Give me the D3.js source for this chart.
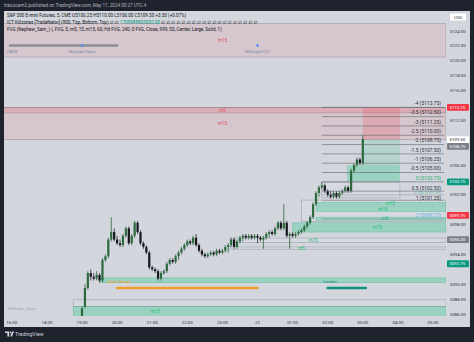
<!DOCTYPE html>
<html>
<head>
<meta charset="utf-8">
<script src="https://cdnjs.cloudflare.com/ajax/libs/d3/7.8.5/d3.min.js"></script>
<style>
  body { margin: 0; background: #1e222d; overflow: hidden; }
  text { font-family: Roboto, 'DejaVu Sans', sans-serif; }
</style>
</head>
<body>
<div id="graph"></div>
<script>
const width = 474
const height = 342

// 5 minute bars [open, high, low, close], index 0 = 19:00
const candles = [
  [5085.75, 5087.00, 5085.25, 5086.75], [5087.00, 5090.00, 5086.75, 5089.50], [5089.50, 5091.75, 5089.25, 5091.50],
  [5091.50, 5092.00, 5090.50, 5091.00], [5091.00, 5091.50, 5090.50, 5090.75], [5090.75, 5091.75, 5090.50, 5091.25],
  [5091.25, 5091.50, 5090.25, 5090.50], [5090.50, 5093.50, 5090.25, 5093.25], [5093.25, 5094.00, 5093.00, 5093.75],
  [5093.75, 5096.25, 5093.50, 5096.00], [5096.00, 5099.00, 5095.75, 5097.00], [5097.00, 5097.50, 5095.75, 5096.00],
  [5096.00, 5096.50, 5095.25, 5095.50], [5095.50, 5096.00, 5095.00, 5095.25], [5095.25, 5096.75, 5095.00, 5096.50],
  [5096.50, 5097.75, 5096.25, 5097.50], [5097.50, 5097.75, 5095.25, 5095.50], [5095.50, 5096.75, 5095.25, 5096.50],
  [5096.50, 5098.50, 5096.25, 5098.25], [5098.25, 5098.50, 5096.75, 5097.00], [5097.00, 5097.25, 5095.25, 5095.50],
  [5095.50, 5095.75, 5094.75, 5095.00], [5095.00, 5095.25, 5094.00, 5094.25], [5094.25, 5094.50, 5092.00, 5092.25],
  [5092.25, 5092.50, 5091.75, 5092.00], [5092.00, 5092.25, 5091.50, 5091.75], [5091.75, 5092.00, 5090.50, 5090.75],
  [5090.75, 5091.75, 5090.50, 5091.50], [5091.50, 5092.00, 5091.25, 5091.75], [5091.75, 5093.00, 5091.50, 5092.75],
  [5092.75, 5093.50, 5092.50, 5093.25], [5093.25, 5093.50, 5092.75, 5093.00], [5093.00, 5094.00, 5092.75, 5093.75],
  [5093.75, 5094.50, 5093.25, 5094.25], [5094.25, 5095.00, 5094.00, 5094.75], [5094.75, 5095.50, 5094.50, 5095.25],
  [5095.25, 5096.00, 5095.00, 5095.75], [5095.75, 5096.00, 5095.25, 5095.50], [5095.50, 5096.50, 5095.25, 5096.25],
  [5096.25, 5096.75, 5095.00, 5095.25], [5095.25, 5095.50, 5094.25, 5094.50], [5094.50, 5094.75, 5093.75, 5094.00],
  [5094.00, 5094.25, 5093.50, 5093.75], [5093.75, 5094.25, 5093.50, 5094.00], [5094.00, 5094.50, 5093.75, 5094.25],
  [5094.25, 5094.50, 5093.75, 5094.00], [5094.00, 5094.75, 5093.75, 5094.50], [5094.50, 5094.75, 5094.00, 5094.25],
  [5094.25, 5094.75, 5094.00, 5094.50], [5094.50, 5095.25, 5094.25, 5095.00], [5095.00, 5095.50, 5094.25, 5095.25],
  [5095.25, 5096.25, 5095.00, 5096.00], [5096.00, 5096.25, 5094.75, 5095.00], [5095.00, 5096.00, 5094.75, 5095.75],
  [5095.75, 5096.50, 5095.50, 5096.25], [5096.25, 5096.75, 5095.75, 5096.50], [5096.50, 5096.75, 5096.00, 5096.25],
  [5096.25, 5096.75, 5096.00, 5096.50], [5096.50, 5096.75, 5096.00, 5096.25], [5096.25, 5096.75, 5096.00, 5096.50],
  [5096.50, 5096.75, 5095.50, 5096.25], [5096.25, 5096.50, 5095.75, 5096.00], [5096.00, 5096.50, 5094.75, 5096.25],
  [5096.25, 5097.00, 5096.00, 5096.75], [5096.75, 5097.25, 5096.25, 5097.00], [5097.00, 5097.25, 5096.50, 5096.75],
  [5096.75, 5097.75, 5096.50, 5097.50], [5097.50, 5098.50, 5097.25, 5098.25], [5098.25, 5098.50, 5097.25, 5097.50],
  [5097.50, 5100.75, 5097.25, 5098.25], [5098.25, 5098.50, 5096.25, 5096.50], [5096.50, 5097.00, 5094.75, 5096.75],
  [5096.75, 5097.00, 5096.25, 5096.50], [5096.50, 5097.00, 5096.25, 5096.75], [5096.75, 5097.25, 5096.50, 5097.00],
  [5097.00, 5097.50, 5096.75, 5097.25], [5097.25, 5098.00, 5097.00, 5097.75], [5097.75, 5098.50, 5097.50, 5098.25],
  [5098.25, 5099.25, 5098.00, 5099.00], [5099.00, 5101.00, 5098.75, 5100.75], [5100.75, 5102.50, 5100.50, 5102.25],
  [5102.25, 5103.25, 5101.75, 5103.00], [5103.00, 5103.75, 5102.75, 5103.25], [5103.25, 5103.50, 5102.25, 5102.50],
  [5102.50, 5102.75, 5101.75, 5102.00], [5102.00, 5102.50, 5101.50, 5101.75], [5101.75, 5102.50, 5101.50, 5102.25],
  [5102.25, 5102.50, 5101.50, 5101.75], [5101.75, 5102.50, 5101.50, 5102.25], [5102.25, 5102.75, 5102.00, 5102.50],
  [5102.50, 5103.25, 5102.25, 5103.00], [5103.00, 5103.25, 5102.25, 5102.50], [5102.50, 5105.50, 5102.25, 5105.25],
  [5105.25, 5106.25, 5105.00, 5106.00], [5106.00, 5107.00, 5105.75, 5106.75], [5106.75, 5107.00, 5106.00, 5106.25],
  [5106.25, 5110.00, 5106.00, 5109.50]
]

const timeLabels = ['16:00', '18:00', '19:00', '20:00', '21:00', '22:00', '23:00', '22', '01:00', '02:00', '03:00', '04:00', '05:00']
const timeBars = [-24, -12, 0, 12, 24, 36, 48, 60, 72, 84, 96, 108, 120]

const priceTicks = [5086, 5088, 5090, 5092, 5094, 5096, 5098, 5100, 5102, 5104, 5106, 5108, 5110, 5112, 5114, 5116, 5118, 5120, 5122, 5124]

// fib extension drawn on the last swing
const fibLevels = ['-4', '-3.5', '-3', '-2.5', '-2', '-1.5', '-1', '-0.5', '0', '0.5', '0.705', '1', '2']
const fibPrices = [5113.75, 5112.50, 5111.25, 5110.00, 5108.75, 5107.50, 5106.25, 5105.00, 5103.75, 5102.50, 5101.99, 5101.25, 5098.75]

// fair value gaps: start bar, top, bottom (null end = runs to the right edge)
const bearFvg = [
  { from: -27, top: 5125.00, bot: 5120.50, label: 'm15' },
  { from: -27, top: 5113.75, bot: 5113.00, label: 'm5' },
  { from: -27, top: 5113.75, bot: 5109.40, label: 'm15' }
]
const bullFvg = [
  { from: 80, top: 5101.00, bot: 5100.60, label: 'm15' },
  { from: 80, top: 5100.40, bot: 5099.75, label: 'm15' },
  { from: 80, top: 5099.00, bot: 5098.60, label: 'm5' },
  { from: 72, top: 5098.25, bot: 5097.00, label: 'm15' },
  { from: 6, top: 5090.85, bot: 5090.20, label: '' },
  { from: -3, top: 5087.00, bot: 5085.60, label: 'm15' }
]
const usedFvg = [
  { from: 75, to: null, top: 5101.30, bot: 5098.40 },
  { from: 82, to: 108.7, top: 5103.70, bot: 5101.60 },
  { from: 50.6, to: null, top: 5096.20, bot: 5095.60 },
  { from: 50.6, to: null, top: 5095.00, bot: 5094.70 },
  { from: -3, to: null, top: 5087.90, bot: 5087.00 }
]
const usedLabels = [{ at: 79, price: 5095.9, label: 'm15' }, { at: 75, price: 5094.8, label: 'm5' }]

// risk / reward boxes right of the last bar
const riskBoxes = [{ from: 96, to: 108.7, top: 5113.75, bot: 5109.40 }]
const rewardBoxes = [
  { from: 96, to: 108.7, top: 5109.40, bot: 5106.00 },
  { from: 90.6, to: 108.7, top: 5106.00, bot: 5103.75 }
]

const sessions = [
  { name: 'CBDR', from: -24.6, to: 12, price: 5122.05 },
  { name: 'Asian Range', from: 12, to: 60, price: 5089.50 },
  { name: 'London', from: 84, to: 97, price: 5089.50 }
]
const midnightMarks = [{ name: 'Midnight Open', at: 0 }, { name: 'Midnight CST', at: 60 }]

const priceTags = [
  { price: 5113.75, text: '5113.75' },
  { price: 5109.40, text: '5109.50' },
  { price: 5108.50, text: '5108.75' },
  { price: 5103.75, text: '5103.75' },
  { price: 5099.25, text: '5099.75' },
  { price: 5096.00, text: '5096.00' },
  { price: 5092.75, text: '5092.75' }
]
const tagColors = ['#f23645', '#ffffff', '#7c7f88', '#089981', '#f23645', '#7c7f88', '#089981']

const panel = { left: 4, right: 470, top: 11, bottom: 327 }
const plotRight = 446

const x = d3.scaleLinear().domain([0, 96]).range([82, 362.8])
const y = d3.scaleLinear().domain([5086, 5124]).range([314, 31])
const xEnd = x.invert(plotRight)

const svg = d3.select('#graph').append('svg')
  .attr('width', width)
  .attr('height', height)

svg.append('rect').attr('width', width).attr('height', height).attr('fill', '#1e222d')
svg.append('rect')
  .attr('x', panel.left).attr('y', panel.top)
  .attr('width', panel.right - panel.left).attr('height', panel.bottom - panel.top)
  .attr('fill', '#d3d6dd')

svg.append('defs').append('clipPath').attr('id', 'plotclip')
  .append('rect')
  .attr('x', panel.left).attr('y', panel.top)
  .attr('width', plotRight - panel.left).attr('height', 305)

const plot = svg.append('g').attr('clip-path', 'url(#plotclip)')

const boxX = (d) => x(d.from)
const boxW = (d) => x(d.to == null ? xEnd : d.to) - x(d.from)
const boxY = (d) => y(d.top)
const boxH = (d) => y(d.bot) - y(d.top)

// bearish gaps
plot.selectAll('.bear').data(bearFvg).join('rect')
  .attr('class', 'bear')
  .attr('x', boxX).attr('width', (d) => x(xEnd) - x(d.from))
  .attr('y', boxY).attr('height', boxH)
  .attr('fill', (d, i) => i === 1 ? 'rgba(242,54,69,0.16)' : 'rgba(242,54,69,0.10)')
  .attr('stroke', 'rgba(120,110,120,0.55)')
  .attr('stroke-width', 0.6)
plot.selectAll('.bearlabel').data(bearFvg).join('text')
  .attr('class', 'bearlabel')
  .attr('x', x(48)).attr('y', (d) => (y(d.top) + y(d.bot)) / 2 + 1.6)
  .attr('text-anchor', 'middle')
  .attr('font-size', 4.6)
  .attr('fill', '#e0525e')
  .text((d) => d.label)

// mitigated gaps
plot.selectAll('.used').data(usedFvg).join('rect')
  .attr('class', 'used')
  .attr('x', boxX).attr('width', boxW)
  .attr('y', boxY).attr('height', boxH)
  .attr('fill', 'rgba(220,224,230,0.35)')
  .attr('stroke', '#9ea3ab')
  .attr('stroke-width', 0.6)

// bullish gaps
plot.selectAll('.bull').data(bullFvg).join('rect')
  .attr('class', 'bull')
  .attr('x', boxX).attr('width', (d) => x(xEnd) - x(d.from))
  .attr('y', boxY).attr('height', boxH)
  .attr('fill', 'rgba(38,200,135,0.33)')
  .attr('stroke', 'rgba(38,170,120,0.5)')
  .attr('stroke-width', 0.5)
const bullLabelAt = [105.3, 102.9, 103.6, 100.9, 0, 25]
plot.selectAll('.bulllabel').data(bullFvg).join('text')
  .attr('class', 'bulllabel')
  .attr('x', (d, i) => x(bullLabelAt[i])).attr('y', (d) => (y(d.top) + y(d.bot)) / 2 + 1.6)
  .attr('text-anchor', 'middle')
  .attr('font-size', 4.6)
  .attr('fill', '#1fbf7a')
  .text((d) => d.label)
plot.selectAll('.usedlabel').data(usedLabels).join('text')
  .attr('class', 'usedlabel')
  .attr('x', (d) => x(d.at)).attr('y', (d) => y(d.price) + 1.6)
  .attr('text-anchor', 'middle')
  .attr('font-size', 4.6)
  .attr('fill', '#1fbf7a')
  .text((d) => d.label)

// risk / reward
plot.selectAll('.risk').data(riskBoxes).join('rect')
  .attr('x', boxX).attr('width', boxW).attr('y', boxY).attr('height', boxH)
  .attr('fill', 'rgba(242,54,69,0.2)')
plot.selectAll('.reward').data(rewardBoxes).join('rect')
  .attr('x', boxX).attr('width', boxW).attr('y', boxY).attr('height', boxH)
  .attr('fill', (d, i) => i === 0 ? 'rgba(38,200,135,0.18)' : 'rgba(38,200,135,0.33)')

// sessions
const sessionColors = ['#8b8e96', '#f0a030', '#0e8f80']
plot.selectAll('.session').data(sessions).join('line')
  .attr('x1', (d) => x(d.from)).attr('x2', (d) => x(d.to))
  .attr('y1', (d) => y(d.price)).attr('y2', (d) => y(d.price))
  .attr('stroke', (d, i) => sessionColors[i])
  .attr('stroke-width', 2.6)
  .attr('stroke-linecap', 'round')
plot.selectAll('.sessionlabel').data(sessions).join('text')
  .attr('x', (d) => x(d.from) + 2).attr('y', (d, i) => y(d.price) + (i === 0 ? 7 : -4.5))
  .attr('text-anchor', 'middle')
  .attr('font-size', 4.2)
  .attr('fill', (d, i) => i === 0 ? '#7d8aa3' : sessionColors[i])
  .text((d) => d.name)
plot.selectAll('.midmark').data(midnightMarks).join('rect')
  .attr('x', (d) => x(d.at) - 1).attr('y', y(5122.05) - 1.5)
  .attr('width', 2).attr('height', 3)
  .attr('fill', '#5a8ee8')
plot.selectAll('.midlabel').data(midnightMarks).join('text')
  .attr('x', (d) => x(d.at)).attr('y', y(5122.05) + 7)
  .attr('text-anchor', 'middle')
  .attr('font-size', 4.2)
  .attr('fill', '#7d8aa3')
  .text((d) => d.name)
plot.append('text')
  .attr('x', 8).attr('y', 310)
  .attr('font-size', 4.2)
  .attr('fill', '#a4a9b4')
  .text('Midnight_Open')

// candles
const upFill = '#2b6a3d'
const downFill = '#15171c'
const bar = plot.selectAll('.candle').data(candles).join('g').attr('class', 'candle')
bar.append('line')
  .attr('x1', (d, i) => x(i)).attr('x2', (d, i) => x(i))
  .attr('y1', (d) => y(d[1])).attr('y2', (d) => y(d[2]))
  .attr('stroke', (d) => d[3] >= d[0] ? '#1f4f2d' : downFill)
  .attr('stroke-width', 0.7)
bar.append('rect')
  .attr('x', (d, i) => x(i) - 1.1).attr('width', 2.2)
  .attr('y', (d) => y(Math.max(d[0], d[3])))
  .attr('height', (d) => Math.max(0.8, Math.abs(y(d[0]) - y(d[3]))))
  .attr('fill', (d) => d[3] >= d[0] ? upFill : downFill)

// fib extension; the three tight levels near 0.5 get their labels nudged apart
const fibColor = (lvl) => lvl === '0' || lvl === '0.705' ? '#1fae72' : lvl === '2' ? '#5fb6e6' : '#2a2e39'
const fibLabelShift = { '0.5': 0.8, '0.705': 0.9, '1': 1.9 }
plot.selectAll('.fib').data(fibPrices).join('line')
  .attr('x1', x(82)).attr('x2', plotRight - 2)
  .attr('y1', (d) => y(d)).attr('y2', (d) => y(d))
  .attr('stroke', (d, i) => i >= 10 ? 'rgba(90,95,105,0.5)' : '#62666f')
  .attr('stroke-width', 0.6)
plot.selectAll('.fiblabel').data(fibPrices).join('text')
  .attr('x', 441).attr('y', (d, i) => y(d) - 2.2 + (fibLabelShift[fibLevels[i]] || 0))
  .attr('text-anchor', 'end')
  .attr('font-size', (d, i) => fibLevels[i] === '0.705' ? 3.8 : 4.9)
  .attr('fill', (d, i) => fibColor(fibLevels[i]))
  .attr('fill-opacity', (d, i) => fibLevels[i] === '0.705' ? 0.7 : 1)
  .text((d, i) => `${fibLevels[i]} (${d.toFixed(2)})`)

// price axis, ticks hidden under the coloured tags
const freeTicks = priceTicks.filter((p) => priceTags.every((t) => Math.abs(y(p) - y(t.price)) > 6))
svg.selectAll('.tick').data(freeTicks).join('text')
  .attr('x', 450).attr('y', (d) => y(d) + 1.6)
  .attr('font-size', 4.3)
  .attr('fill', '#2a2e39')
  .text((d) => d.toFixed(2))
const tag = svg.selectAll('.tag').data(priceTags).join('g')
tag.append('rect')
  .attr('x', 447).attr('y', (d) => y(d.price) - 3.4)
  .attr('width', 22).attr('height', 6.8).attr('rx', 1)
  .attr('fill', (d, i) => tagColors[i])
tag.append('text')
  .attr('x', 449.5).attr('y', (d) => y(d.price) + 1.6)
  .attr('font-size', 4.3)
  .attr('fill', (d, i) => i === 1 ? '#131722' : '#ffffff')
  .text((d) => d.text)
svg.append('rect').attr('x', 450).attr('y', 13.5).attr('width', 16).attr('height', 7).attr('fill', '#ffffff')
svg.append('text').attr('x', 458).attr('y', 18.6).attr('text-anchor', 'middle')
  .attr('font-size', 4.3).attr('fill', '#2a2e39').text('USD')

// time axis
svg.selectAll('.time').data(timeLabels).join('text')
  .attr('x', (d, i) => x(timeBars[i])).attr('y', 323.5)
  .attr('text-anchor', 'middle')
  .attr('font-size', 4.4)
  .attr('fill', '#2a2e39')
  .text((d) => d)

// legend
const legend = svg.append('g').attr('font-size', 4.6).attr('fill', '#131722')
legend.append('text').attr('x', 7).attr('y', 16.6)
  .text('S&P 500 E-mini Futures, 5, CME  O5106.25  H5110.00  L5106.00  C5109.50  +3.50 (+0.07%)')
const row2 = legend.append('text').attr('x', 7).attr('y', 23.6)
row2.append('tspan').text('ICT Killzones [TradeNator] (800, Top, Bottom, Top) \u2205 \u2205 ')
row2.append('tspan').attr('fill', '#089981').text('1708988800000.00')
row2.append('tspan').text(' \u2205 \u2205 \u2205 \u2205 \u2205 \u2205 \u2205 \u2205 \u2205 \u2205 \u2205 \u2205 \u2205 \u2205 \u2205 \u2205 \u2205 \u2205 \u2205')
legend.append('text').attr('x', 7).attr('y', 30.6)
  .text('FVG (Nephew_Sam_) (, FVG, 5, m5, 15, m15, 60, Hd FVG, 240, 0 FVG, Close, 999, 50, Center, Large, Solid, 1)')

// header and footer
svg.append('text').attr('x', 4).attr('y', 7)
  .attr('font-size', 4.6).attr('fill', '#b2b5be')
  .text('traicocem2 published on TradingView.com, May 11, 2024 00:27 UTC-4')
const logo = svg.append('g').attr('transform', 'translate(5,331.5)').attr('fill', '#d1d4dc')
logo.append('path').attr('d', 'M0,0 H4.2 V5 H2.4 V1.6 H0 Z')
logo.append('circle').attr('cx', 5.6).attr('cy', 0.9).attr('r', 0.9)
logo.append('path').attr('d', 'M5.2,5 L7.2,0 H9 L7,5 Z')
svg.append('text').attr('x', 15).attr('y', 336.3)
  .attr('font-size', 5.2).attr('fill', '#d1d4dc')
  .text('TradingView')
</script>
</body>
</html>
